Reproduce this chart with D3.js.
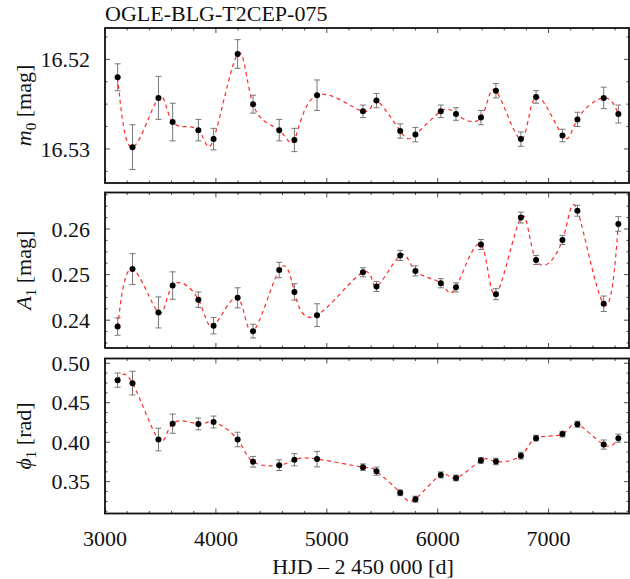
<!DOCTYPE html>
<html>
<head>
<meta charset="utf-8">
<script src="https://cdn.jsdelivr.net/npm/d3@7"></script>
<style>
  body { margin: 0; background: #fff; }
  text { font-family: "Liberation Serif", "DejaVu Serif", serif; fill: #111; }
</style>
</head>
<body>
<div id="chart"></div>
<script>
// observation epochs (HJD - 2450000)
const hjd = [3114, 3248, 3482, 3610, 3842, 3979, 4196, 4335, 4571, 4708, 4912, 5326, 5448,
	5662, 5799, 6028, 6165, 6390, 6525, 6750, 6887, 7125, 7260, 7497, 7629]

// mean magnitude
const m0 = [16.5220, 16.5298, 16.5243, 16.5270, 16.5279, 16.5289, 16.5194, 16.5250, 16.5279,
	16.5290, 16.5240, 16.5258, 16.5246, 16.5280, 16.5284, 16.5258, 16.5261, 16.5265, 16.5235,
	16.5289, 16.5242, 16.5285, 16.5267, 16.5243, 16.5261]
const m0Err = [0.0015, 0.0025, 0.0024, 0.0021, 0.0012, 0.0012, 0.0016, 0.0010, 0.0012, 0.0013,
	0.0017, 0.0007, 0.0008, 0.0008, 0.0008, 0.0007, 0.0007, 0.0008, 0.0008, 0.0008, 0.0007,
	0.0007, 0.0008, 0.0012, 0.0010]

// first harmonic amplitude
const a1 = [0.2386, 0.2512, 0.2417, 0.2476, 0.2445, 0.2388, 0.2449, 0.2376, 0.2510, 0.2462,
	0.2411, 0.2505, 0.2474, 0.2542, 0.2508, 0.2481, 0.2472, 0.2566, 0.2457, 0.2625, 0.2532,
	0.2576, 0.2640, 0.2436, 0.2611]
const a1Err = [0.0019, 0.0034, 0.0034, 0.0030, 0.0017, 0.0018, 0.0022, 0.0015, 0.0017, 0.0018,
	0.0025, 0.0010, 0.0011, 0.0011, 0.0011, 0.0010, 0.0010, 0.0011, 0.0012, 0.0012, 0.0010,
	0.0010, 0.0012, 0.0017, 0.0016]

// first harmonic phase
const phi1 = [0.4786, 0.4748, 0.4034, 0.4235, 0.4231, 0.4256, 0.4034, 0.3752, 0.3709, 0.3778,
	0.3786, 0.3684, 0.3633, 0.3359, 0.3278, 0.3586, 0.3547, 0.3769, 0.3756, 0.3829, 0.4051,
	0.4103, 0.4227, 0.3970, 0.4051]
const phi1Err = [0.0090, 0.0150, 0.0143, 0.0122, 0.0075, 0.0075, 0.0092, 0.0068, 0.0068, 0.0077,
	0.0098, 0.0041, 0.0051, 0.0036, 0.0038, 0.0038, 0.0036, 0.0036, 0.0041, 0.0043, 0.0036,
	0.0036, 0.0038, 0.0058, 0.0051]

const xTicks = [3000, 4000, 5000, 6000, 7000]

const title = 'OGLE-BLG-T2CEP-075'

const width = 630
const height = 579
const left = 105
const right = 629

const svg = d3.select('#chart')
	.append('svg')
	.attr('width', width)
	.attr('height', height)

const x = d3.scaleLinear()
	.domain([3000, 7725])
	.range([left, right])

// one entry per panel
const panels = [
	{values: m0, errors: m0Err, domain: [16.5338, 16.5165], top: 28, bottom: 183,
		ticks: [16.52, 16.53], minor: 0.0025, fmt: d3.format('.2f'), label: ['m', '0', ' [mag]']},
	{values: a1, errors: a1Err, domain: [0.2339, 0.268], top: 192.5, bottom: 348,
		ticks: [0.24, 0.25, 0.26], minor: 0.0025, fmt: d3.format('.2f'), label: ['A', '1', ' [mag]']},
	{values: phi1, errors: phi1Err, domain: [0.3097, 0.506], top: 358.5, bottom: 513.5,
		ticks: [0.35, 0.40, 0.45, 0.50], minor: 0.0125, fmt: d3.format('.2f'), label: ['\u03d5', '1', ' [rad]']}
]

const majorLen = 5
const minorLen = 2.5

// range of minor tick values covering a domain
const minorTicks = (lo, hi, step) => {
	const out = []
	for (let v = Math.ceil(lo / step - 1e-6) * step; v <= hi + 1e-9; v += step) out.push(+v.toFixed(6))
	return out
}

panels.forEach((p, pi) => {
	const y = d3.scaleLinear()
		.domain(p.domain)
		.range([p.bottom, p.top])

	const g = svg.append('g')

	// ticks on all four sides, pointing inward
	const xMinor = minorTicks(3000, 7725, 200)
	xMinor.forEach(v => {
		const len = v % 1000 === 0 ? majorLen : minorLen
		g.append('line').attr('x1', x(v)).attr('x2', x(v)).attr('y1', p.bottom).attr('y2', p.bottom - len)
			.attr('stroke', '#222').attr('stroke-width', 0.8)
		g.append('line').attr('x1', x(v)).attr('x2', x(v)).attr('y1', p.top).attr('y2', p.top + len)
			.attr('stroke', '#222').attr('stroke-width', 0.8)
	})
	const [lo, hi] = d3.extent(p.domain)
	minorTicks(lo, hi, p.minor).forEach(v => {
		const isMajor = p.ticks.some(t => Math.abs(t - v) < 1e-6)
		const len = isMajor ? majorLen : minorLen
		g.append('line').attr('x1', left).attr('x2', left + len).attr('y1', y(v)).attr('y2', y(v))
			.attr('stroke', '#222').attr('stroke-width', 0.8)
		g.append('line').attr('x1', right).attr('x2', right - len).attr('y1', y(v)).attr('y2', y(v))
			.attr('stroke', '#222').attr('stroke-width', 0.8)
	})

	// y tick labels
	g.selectAll('.ylab')
		.data(p.ticks)
		.join('text')
		.attr('x', left - 15)
		.attr('y', d => y(d))
		.attr('dy', '0.35em')
		.attr('text-anchor', 'end')
		.style('font-size', '22px')
		.text(p.fmt)

	// y axis title
	const t = g.append('text')
		.attr('transform', `translate(31, ${(p.top + p.bottom) / 2}) rotate(-90)`)
		.attr('text-anchor', 'middle')
		.style('font-size', '22px')
	t.append('tspan').style('font-style', 'italic').text(p.label[0])
	t.append('tspan').attr('dy', 5).style('font-size', '15px').text(p.label[1])
	t.append('tspan').attr('dy', -5).text(p.label[2])

	const pts = hjd.map((h, i) => ({x: h, y: p.values[i], e: p.errors[i]}))

	// dashed spline through the points
	g.append('path')
		.datum(pts)
		.attr('fill', 'none')
		.attr('stroke', '#ff2a2a')
		.attr('stroke-width', 1.2)
		.attr('stroke-dasharray', '4,3.5')
		.attr('d', d3.line().x(d => x(d.x)).y(d => y(d.y)).curve(d3.curveNatural))

	// error bars
	const bars = g.selectAll('.err')
		.data(pts)
		.join('g')
		.attr('stroke', '#777')
		.attr('stroke-width', 1)
	bars.append('line')
		.attr('x1', d => x(d.x)).attr('x2', d => x(d.x))
		.attr('y1', d => y(d.y - d.e)).attr('y2', d => y(d.y + d.e))
	bars.append('line')
		.attr('x1', d => x(d.x) - 3).attr('x2', d => x(d.x) + 3)
		.attr('y1', d => y(d.y - d.e)).attr('y2', d => y(d.y - d.e))
	bars.append('line')
		.attr('x1', d => x(d.x) - 3).attr('x2', d => x(d.x) + 3)
		.attr('y1', d => y(d.y + d.e)).attr('y2', d => y(d.y + d.e))

	// points
	g.selectAll('.pt')
		.data(pts)
		.join('circle')
		.attr('cx', d => x(d.x))
		.attr('cy', d => y(d.y))
		.attr('r', 3)
		.attr('fill', '#000')

	// frame
	g.append('rect')
		.attr('x', left)
		.attr('y', p.top)
		.attr('width', right - left)
		.attr('height', p.bottom - p.top)
		.attr('fill', 'none')
		.attr('stroke', '#111')
		.attr('stroke-width', 1.8)

	// x tick labels only below the last panel
	if (pi === panels.length - 1) {
		g.selectAll('.xlab')
			.data(xTicks)
			.join('text')
			.attr('x', d => x(d))
			.attr('y', p.bottom + 32)
			.attr('text-anchor', 'middle')
			.style('font-size', '22px')
			.text(d => d)
	}
})

svg.append('text')
	.attr('x', (left + right) / 2 - 4)
	.attr('y', 574)
	.attr('text-anchor', 'middle')
	.style('font-size', '22px')
	.text('HJD \u2013 2 450 000 [d]')

svg.append('text')
	.attr('x', left)
	.attr('y', 21)
	.style('font-size', '22px')
	.text(title)
</script>
</body>
</html>
